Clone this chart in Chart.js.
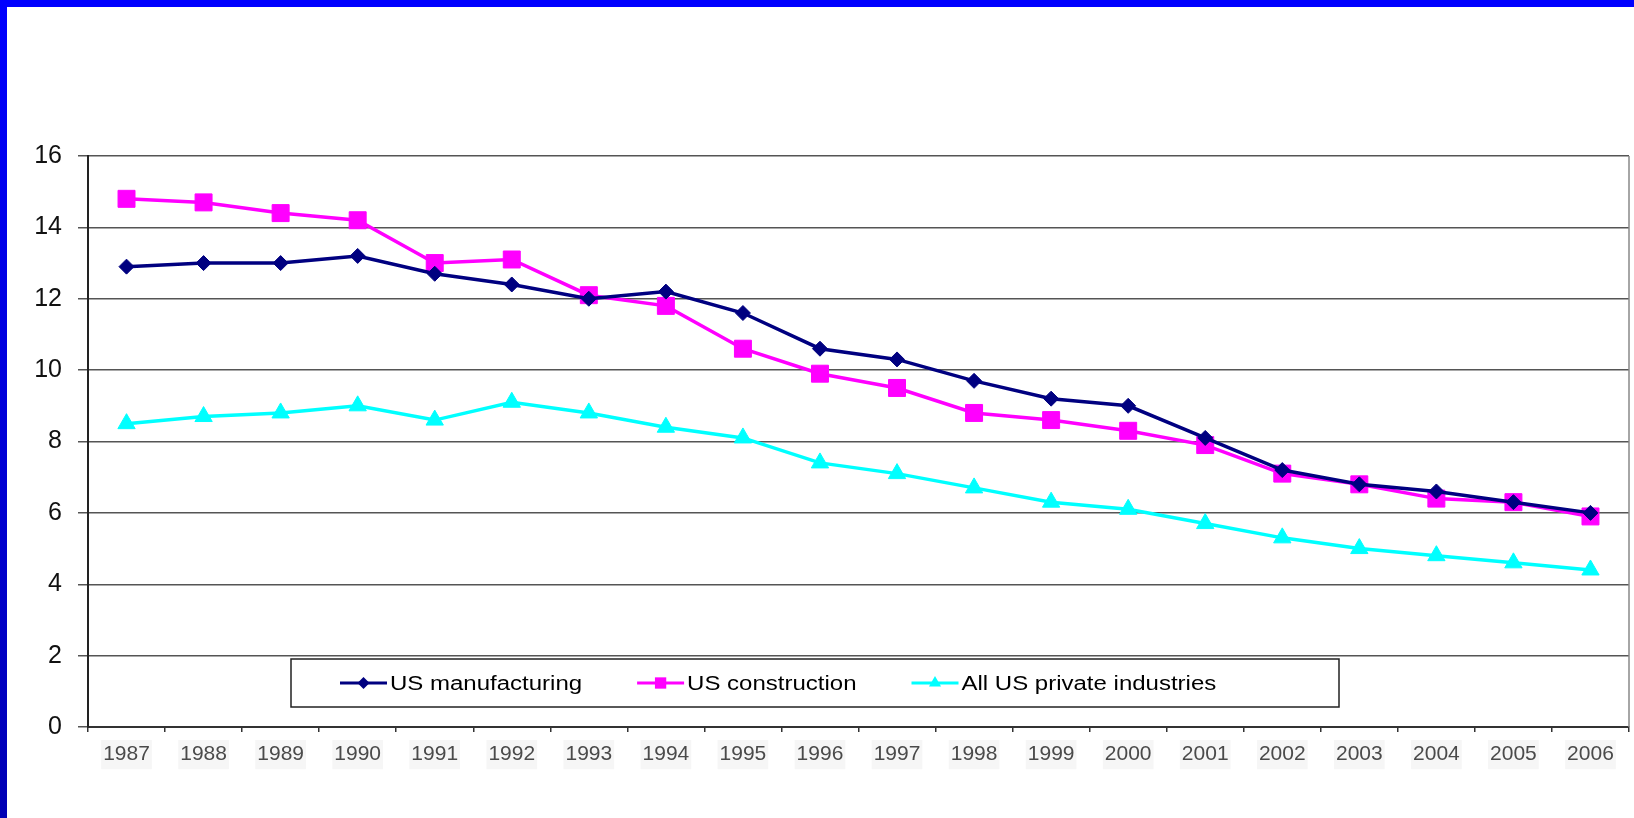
<!DOCTYPE html>
<html>
<head>
<meta charset="utf-8">
<script src="https://cdn.jsdelivr.net/npm/chart.js@4/dist/chart.umd.min.js"></script>
<style>
  html, body { margin: 0; padding: 0; background: #fff; overflow: hidden; }
  #wrap { position: relative; width: 1634px; height: 818px; overflow: hidden; }
  #topBar { position: absolute; left: 0; top: 0; width: 1634px; height: 7px; background: #0000ff; }
  #leftBar { position: absolute; left: 0; top: 0; width: 7px; height: 818px;
             background: linear-gradient(#0000ff, #0000b4); }
  #chartBox { position: absolute; left: 0; top: 0; width: 1634px; height: 818px; }
</style>
</head>
<body>
<div id="wrap">
  <div id="chartBox"><canvas id="rateChart"></canvas></div>
  <div id="topBar"></div>
  <div id="leftBar"></div>
</div>
<script>
"use strict";

// ---------- Data ----------
const years = ["1987", "1988", "1989", "1990", "1991", "1992", "1993", "1994", "1995", "1996",
               "1997", "1998", "1999", "2000", "2001", "2002", "2003", "2004", "2005", "2006"];

const manufacturing = [12.9, 13.0, 13.0, 13.2, 12.7, 12.4, 12.0, 12.2, 11.6, 10.6,
                       10.3, 9.7, 9.2, 9.0, 8.1, 7.2, 6.8, 6.6, 6.3, 6.0];

const construction = [14.8, 14.7, 14.4, 14.2, 13.0, 13.1, 12.1, 11.8, 10.6, 9.9,
                      9.5, 8.8, 8.6, 8.3, 7.9, 7.1, 6.8, 6.4, 6.3, 5.9];

const allPrivate = [8.5, 8.7, 8.8, 9.0, 8.6, 9.1, 8.8, 8.4, 8.1, 7.4,
                    7.1, 6.7, 6.3, 6.1, 5.7, 5.3, 5.0, 4.8, 4.6, 4.4];

const yTicks = [0, 2, 4, 6, 8, 10, 12, 14, 16];

const seriesNames = ["US manufacturing", "US construction", "All US private industries"];

// ---------- Plugins ----------
// plot area right border
const frame = {
  id: "frame",
  beforeDatasetsDraw(chart) {
    const { ctx, chartArea: a } = chart;
    ctx.save();
    ctx.strokeStyle = "#888";
    ctx.lineWidth = 1.5;
    ctx.beginPath();
    ctx.moveTo(a.right, a.top);
    ctx.lineTo(a.right, a.bottom);
    ctx.stroke();
    ctx.restore();
  }
};

// boxed legend sitting inside the plot
const boxLegend = {
  id: "boxLegend",
  afterDraw(chart) {
    const { ctx, chartArea: a } = chart;
    const left = a.left + 203;
    const top = a.top + 503;
    const w = 1048;
    const h = 48;
    const stretch = 1.2;

    ctx.save();
    ctx.fillStyle = "#fff";
    ctx.fillRect(left, top, w, h);
    ctx.strokeStyle = "#222";
    ctx.lineWidth = 1.5;
    ctx.strokeRect(left, top, w, h);

    ctx.font = "20px 'Liberation Sans', Arial, sans-serif";
    ctx.textBaseline = "middle";
    const cy = top + h / 2;
    let x = left + 49;

    chart.data.datasets.forEach((ds) => {
      ctx.strokeStyle = ds.borderColor;
      ctx.lineWidth = 3;
      ctx.beginPath();
      ctx.moveTo(x, cy);
      ctx.lineTo(x + 47, cy);
      ctx.stroke();
      ctx.fillStyle = ds.borderColor;
      Chart.helpers.drawPoint(ctx, {
        pointStyle: ds.pointStyle,
        radius: ds.legendRadius,
        rotation: 0,
        borderWidth: 0
      }, x + 23.5, cy);

      ctx.fillStyle = "#000";
      const tx = x + 50;
      ctx.save();
      ctx.translate(tx, cy);
      ctx.scale(stretch, 1);
      ctx.fillText(ds.label, 0, 1);
      ctx.restore();
      x = tx + ctx.measureText(ds.label).width * stretch + 55;
    });
    ctx.restore();
  }
};

// ---------- Chart ----------
function makeSeries(label, data, color, style, radius, legendRadius) {
  return {
    label,
    data,
    borderColor: color,
    backgroundColor: color,
    pointBackgroundColor: color,
    pointBorderColor: color,
    pointBorderWidth: 1,
    borderWidth: 3.5,
    pointStyle: style,
    pointRadius: radius,
    legendRadius,
    tension: 0
  };
}

const chart = new Chart(document.getElementById("rateChart"), {
  type: "line",
  data: {
    labels: years,
    datasets: [
      makeSeries(seriesNames[0], manufacturing, "#000080", "rectRot", 7.5, 6),
      makeSeries(seriesNames[1], construction, "#ff00ff", "rect", 12, 8),
      makeSeries(seriesNames[2], allPrivate, "#00ffff", "triangle", 10, 7)
    ]
  },
  options: {
    responsive: true,
    maintainAspectRatio: false,
    animation: false,
    layout: {
      autoPadding: false,
      padding: { top: 156, right: 5, bottom: 0, left: 0 }
    },
    plugins: {
      legend: { display: false },
      tooltip: { enabled: false }
    },
    scales: {
      x: {
        offset: true,
        afterFit(scale) {
          scale.height = 91;
          scale.paddingLeft = 0;
          scale.paddingRight = 0;
        },
        grid: {
          offset: true,
          drawOnChartArea: false,
          drawTicks: true,
          tickLength: 5,
          color: "#333",
          lineWidth: 1.5
        },
        border: { color: "#333", width: 2 },
        ticks: {
          color: "#4a4a4a",
          padding: 10,
          maxRotation: 0,
          autoSkip: false,
          font: { family: "'Liberation Sans', Arial, sans-serif", size: 21 },
          showLabelBackdrop: true,
          backdropColor: "#f6f6f6",
          backdropPadding: 2
        }
      },
      y: {
        min: yTicks[0],
        max: yTicks[yTicks.length - 1],
        afterFit(scale) { scale.width = 88; },
        afterBuildTicks(scale) { scale.ticks = yTicks.map(v => ({ value: v })); },
        grid: {
          color: "#555",
          lineWidth: 1.5,
          tickLength: 10
        },
        border: { color: "#222", width: 2 },
        ticks: {
          color: "#111",
          padding: 16,
          font: { family: "'Liberation Sans', Arial, sans-serif", size: 25 }
        }
      }
    }
  },
  plugins: [frame, boxLegend]
});
</script>
</body>
</html>
